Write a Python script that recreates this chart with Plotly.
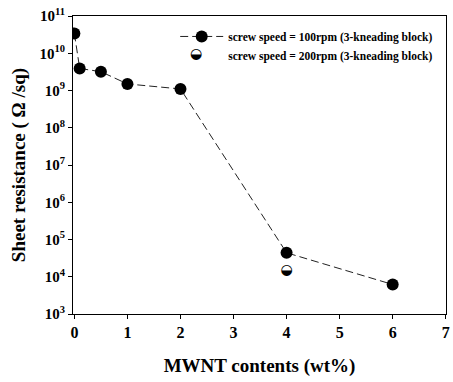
import plotly.graph_objects as go

# Data
mwnt_100 = [0, 0.1, 0.5, 1, 2, 4, 6]
res_100 = [3.4e10, 3.9e9, 3.2e9, 1.5e9, 1.1e9, 4.4e4, 6.2e3]
mwnt_200 = [4]
res_200 = [1.45e4]

name_100 = "screw speed = 100rpm (3-kneading block)"
name_200 = "screw speed = 200rpm (3-kneading block)"

y_tickvals = [1e3, 1e4, 1e5, 1e6, 1e7, 1e8, 1e9, 1e10, 1e11]
y_ticktext = ["10<sup>%d</sup>" % e for e in range(3, 12)]
x_tickvals = [0, 1, 2, 3, 4, 5, 6, 7]

FONT = "Liberation Serif"

fig = go.Figure()
fig.add_trace(go.Scatter(
    x=mwnt_100, y=res_100, mode="lines+markers", name=name_100,
    line=dict(color="#222", width=1, dash="8px,4px"),
    marker=dict(symbol="circle", size=12, color="black"),
))
# half-filled marker (lower half black) drawn as a glyph
fig.add_trace(go.Scatter(
    x=mwnt_200, y=res_200, mode="text", text=["◒"], showlegend=False,
    textposition="middle center",
    textfont=dict(family="DejaVu Sans", size=14, color="black"),
))
# legend entry for the 200 rpm series (symbol added as annotation)
fig.add_trace(go.Scatter(
    x=[None], y=[None], mode="markers", name=name_200,
    marker=dict(size=11, color="rgba(0,0,0,0)"),
))

fig.add_annotation(
    xref="paper", yref="paper", x=0.329, y=0.877, text="◒", showarrow=False,
    font=dict(family="DejaVu Sans", size=14, color="black"),
    xanchor="center", yanchor="middle",
)

fig.update_layout(
    width=453, height=382,
    margin=dict(l=73, r=3, t=16, b=68),
    paper_bgcolor="white", plot_bgcolor="white",
    font=dict(family=FONT, color="black"),
    showlegend=True,
    legend=dict(
        x=0.274, y=0.98, xanchor="left", yanchor="top",
        bgcolor="rgba(0,0,0,0)", borderwidth=0,
        font=dict(family=FONT, size=11.5, weight="bold"),
        tracegroupgap=0, itemwidth=43,
    ),
    xaxis=dict(
        range=[-0.026, 7.005], tickvals=x_tickvals,
        showline=True, linecolor="black", linewidth=1, mirror=True,
        ticks="outside", ticklen=4, tickcolor="black",
        showgrid=False, zeroline=False, ticklabeloverflow="allow",
        tickfont=dict(family=FONT, size=16, weight="bold"),
        title=dict(text="MWNT contents (wt%)", standoff=18,
                   font=dict(family=FONT, size=19, weight="bold")),
    ),
    yaxis=dict(
        type="log", range=[3, 11], tickvals=y_tickvals, ticktext=y_ticktext,
        showline=True, linecolor="black", linewidth=1, mirror=True,
        ticks="outside", ticklen=4, tickcolor="black",
        showgrid=False, zeroline=False,
        tickfont=dict(family=FONT, size=15, weight="bold"),
        title=dict(text="Sheet resistance ( Ω /sq)", standoff=8,
                   font=dict(family=FONT, size=19, weight="bold")),
    ),
)

fig.write_html("out.html", config={"displayModeBar": False},
               post_script="document.body.style.margin='0';")
